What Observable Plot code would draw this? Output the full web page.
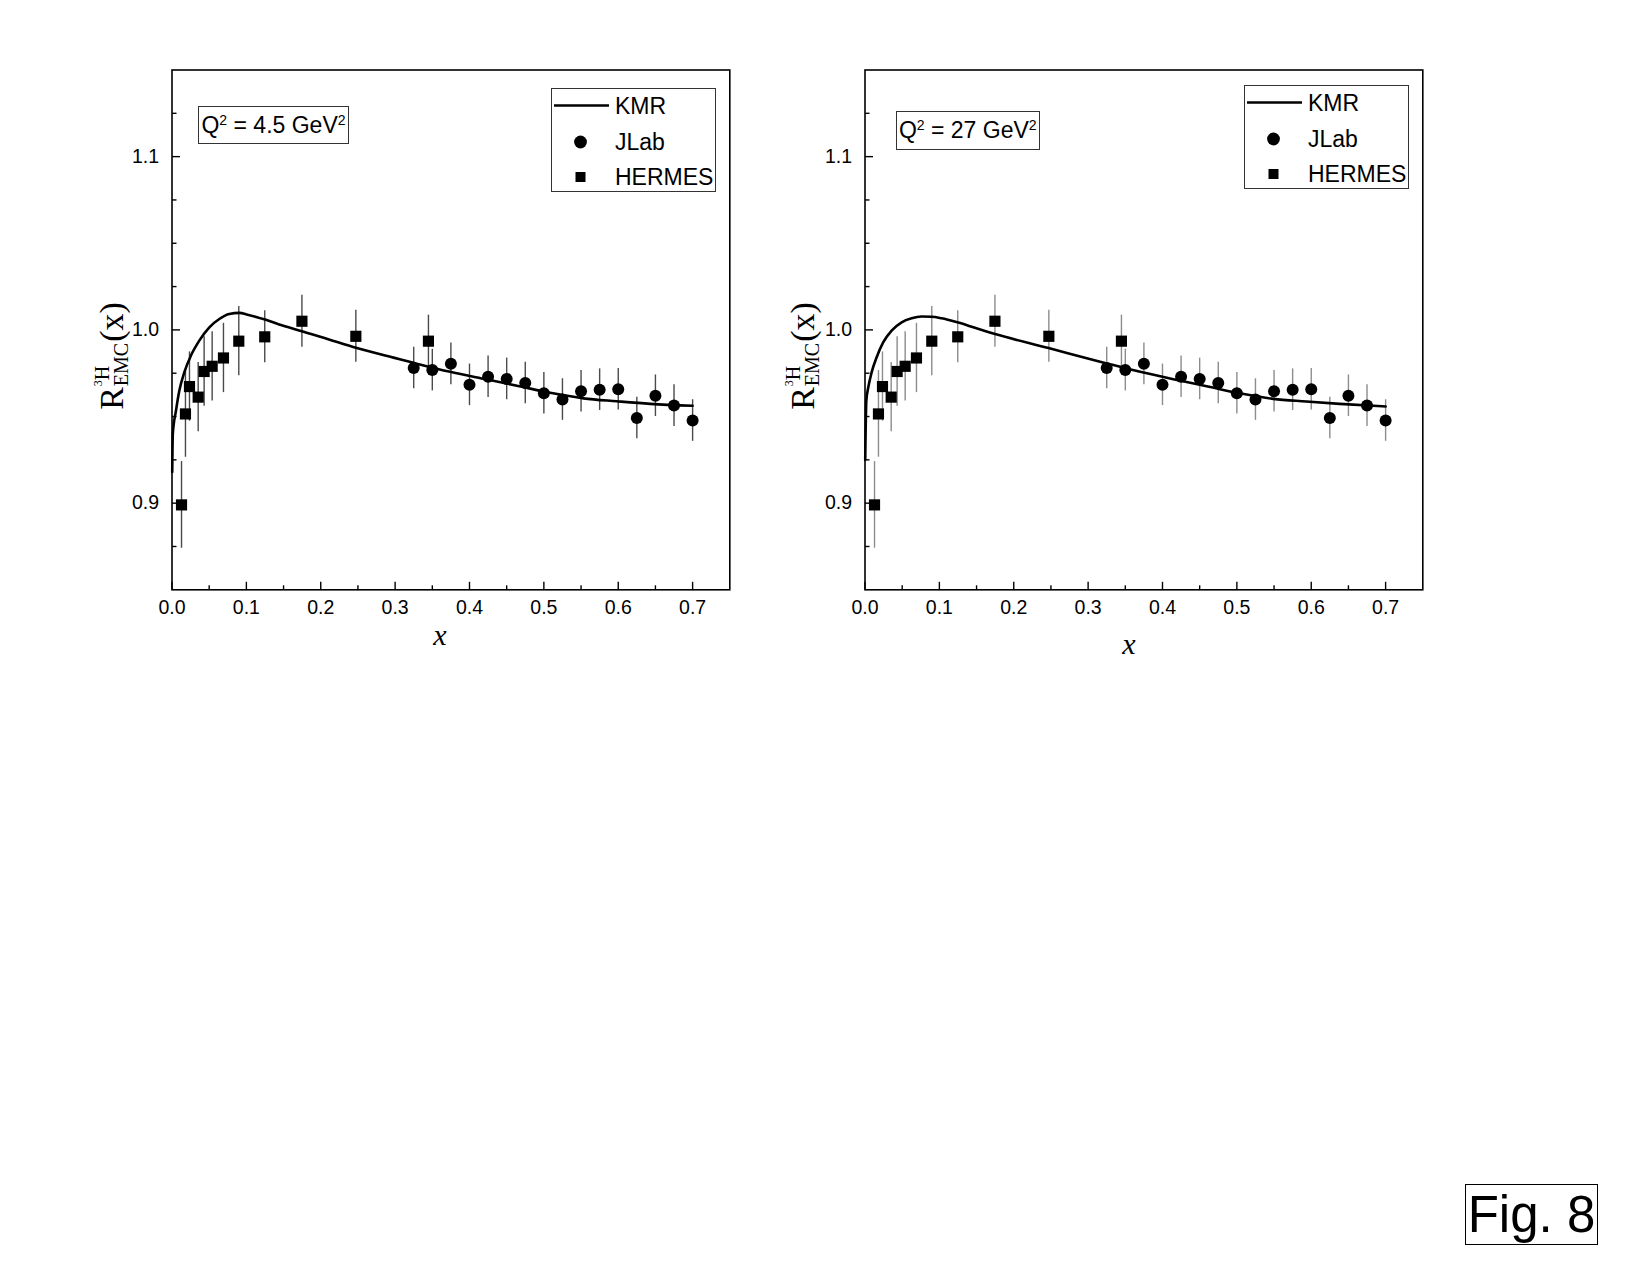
<!DOCTYPE html>
<html>
<head>
<meta charset="utf-8">
<script src="https://cdn.jsdelivr.net/npm/d3@7"></script>
<script src="https://cdn.jsdelivr.net/npm/@observablehq/plot@0.6"></script>
<style>
  html, body { margin: 0; padding: 0; background: #fff; }
  #root { position: relative; width: 1650px; height: 1275px; background: #fff; overflow: hidden;
          font-family: "Liberation Sans", Arial, sans-serif; color: #000; }
  .panel { position: absolute; top: 0; }
  .qbox { position: absolute; border: 1px solid #333; box-sizing: border-box; display: flex;
          align-items: center; justify-content: center; font-size: 23px; white-space: nowrap; }
  .qbox sup { font-size: 14px; position: relative; top: -5px; vertical-align: top; line-height: 1; }
  .legend { position: absolute; border: 1px solid #333; box-sizing: border-box; background: #fff; }
  .ylab { position: absolute; transform: translate(-50%, -50%) rotate(-90deg); white-space: nowrap;
          font-family: "Liberation Serif", "DejaVu Serif", serif; display: flex; align-items: center; line-height: 1; }
  .ylab .big { font-size: 34px; }
  .ylab .stack { display: inline-flex; flex-direction: column; font-size: 20px; line-height: 0.95; margin: 0 1px; align-items: flex-start; }
  .ylab .tiny { font-size: 12px; vertical-align: top; }
  .xlab { position: absolute; transform: translate(-50%, -50%); font-family: "Liberation Serif", "DejaVu Serif", serif;
          font-style: italic; font-size: 30px; line-height: 1; }
  .fig { position: absolute; border: 1.5px solid #000; box-sizing: border-box; font-size: 51px;
         display: flex; align-items: center; justify-content: center; line-height: 1; }
</style>
</head>
<body>
<div id="root"></div>
<script>
// ---------------- data ----------------
const xTickLabels = [0.0, 0.1, 0.2, 0.3, 0.4, 0.5, 0.6, 0.7];
const xMinorTicks = [0.05, 0.15, 0.25, 0.35, 0.45, 0.55, 0.65];
const yTickLabels = [0.9, 1.0, 1.1];
const yMinorTicks = [0.875, 0.925, 0.95, 0.975, 1.025, 1.05, 1.075, 1.125];

const jlabX   = [0.325, 0.35, 0.375, 0.40, 0.425, 0.45, 0.475, 0.50, 0.525, 0.55, 0.575, 0.60, 0.625, 0.65, 0.675, 0.70];
const jlabR   = [0.978, 0.9768, 0.9804, 0.9683, 0.973, 0.9717, 0.9694, 0.9634, 0.9598, 0.9646, 0.9655, 0.9657, 0.9492, 0.962, 0.9563, 0.9477];
const jlabErr = [0.012, 0.012, 0.012, 0.012, 0.012, 0.012, 0.012, 0.012, 0.012, 0.012, 0.012, 0.012, 0.012, 0.012, 0.012, 0.012];

const hermesX   = [0.0128, 0.0181, 0.0235, 0.0352, 0.0432, 0.054, 0.0692, 0.0898, 0.1247, 0.1747, 0.2472, 0.3448];
const hermesR   = [0.899, 0.9515, 0.9673, 0.9612, 0.976, 0.979, 0.9838, 0.9935, 0.996, 1.005, 0.9963, 0.9935];
const hermesErr = [0.025, 0.025, 0.02, 0.02, 0.02, 0.02, 0.02, 0.02, 0.015, 0.015, 0.015, 0.015];

// KMR curve, Q^2 = 4.5 GeV^2
const kmr45X = [0.0003, 0.0011, 0.0054, 0.0099, 0.0166, 0.0255, 0.0367, 0.0502, 0.0636, 0.077, 0.0905, 0.1017, 0.1263, 0.1487, 0.177, 0.21, 0.2485, 0.2978, 0.3247, 0.374, 0.419, 0.4638, 0.5085, 0.5533, 0.598, 0.643, 0.700];
const kmr45R = [0.918, 0.940, 0.9535, 0.965, 0.9756, 0.9852, 0.9938, 1.0015, 1.0063, 1.0092, 1.0098, 1.0088, 1.0058, 1.0025, 0.999, 0.9946, 0.9895, 0.984, 0.981, 0.9758, 0.9718, 0.9678, 0.9637, 0.9605, 0.9588, 0.9573, 0.9562];
// KMR curve, Q^2 = 27 GeV^2
const kmr27X = [0.0003, 0.0018, 0.0045, 0.009, 0.0157, 0.0246, 0.0358, 0.0493, 0.0627, 0.0761, 0.0896, 0.103, 0.1254, 0.1478, 0.175, 0.2468, 0.3238, 0.37, 0.4146, 0.4594, 0.504, 0.549, 0.5934, 0.6382, 0.70];
const kmr27R = [0.925, 0.9592, 0.967, 0.9756, 0.9842, 0.9929, 0.9996, 1.0044, 1.0067, 1.0077, 1.0076, 1.0067, 1.0042, 1.0012, 0.9976, 0.9895, 0.9808, 0.9758, 0.9715, 0.9675, 0.9634, 0.9602, 0.9587, 0.9573, 0.9558];

const seriesNames = ["KMR", "JLab", "HERMES"];
const panels = [
  {q2: "4.5", kx: kmr45X, ky: kmr45R, errColor: "#4a4a4a"},
  {q2: "27",  kx: kmr27X, ky: kmr27R, errColor: "#8c8c8c"}
];

// ---------------- helpers ----------------
const jlab = jlabX.map((x, i) => ({x, r: jlabR[i], e: jlabErr[i]}));
const hermes = hermesX.map((x, i) => ({x, r: hermesR[i], e: hermesErr[i]}));

const tickRight = {draw(ctx, size) { const l = Math.sqrt(size / Math.PI); ctx.moveTo(0, 0); ctx.lineTo(l, 0); }};
const tickUp = {draw(ctx, size) { const l = Math.sqrt(size / Math.PI); ctx.moveTo(0, 0); ctx.lineTo(0, -l); }};

function makePanel(p) {
  const kmr = p.kx.map((x, i) => ({x, r: p.ky[i]}));
  return Plot.plot({
    width: 790, height: 680,
    marginLeft: 171.5, marginRight: 60.7, marginTop: 69.5, marginBottom: 90.7,
    x: {domain: [0, 0.75]},
    y: {domain: [0.85, 1.15]},
    style: {fontFamily: "'Liberation Sans', Arial, sans-serif", fontSize: "19.5px", color: "#000", background: "transparent", overflow: "visible"},
    marks: [
      Plot.axisX({ticks: xTickLabels, tickFormat: d3.format(".1f"), tickSize: 0, tickPadding: 10, label: null, fontSize: 19.5}),
      Plot.axisY({ticks: yTickLabels, tickFormat: d3.format(".1f"), tickSize: 0, tickPadding: 13, label: null, fontSize: 19.5}),
      Plot.dot(xTickLabels, {x: d => d, frameAnchor: "bottom", symbol: tickUp, r: 8, stroke: "#000", fill: "none", strokeWidth: 1.4}),
      Plot.dot(xMinorTicks, {x: d => d, frameAnchor: "bottom", symbol: tickUp, r: 4.5, stroke: "#000", fill: "none", strokeWidth: 1.4}),
      Plot.dot(yTickLabels, {y: d => d, frameAnchor: "left", symbol: tickRight, r: 8, stroke: "#000", fill: "none", strokeWidth: 1.4}),
      Plot.dot(yMinorTicks, {y: d => d, frameAnchor: "left", symbol: tickRight, r: 4.5, stroke: "#000", fill: "none", strokeWidth: 1.4}),
      Plot.ruleX(jlab, {x: "x", y1: d => d.r - d.e, y2: d => d.r + d.e, stroke: p.errColor, strokeWidth: 1.4}),
      Plot.ruleX(hermes, {x: "x", y1: d => d.r - d.e, y2: d => d.r + d.e, stroke: p.errColor, strokeWidth: 1.4}),
      Plot.line(kmr, {x: "x", y: "r", curve: "monotone-x", stroke: "#000", strokeWidth: 2.6}),
      Plot.dot(jlab, {x: "x", y: "r", r: 6, fill: "#000", stroke: "none"}),
      Plot.dot(hermes, {x: "x", y: "r", symbol: "square", r: 6.3, fill: "#000", stroke: "none"}),
      Plot.frame({stroke: "#000", strokeWidth: 1.6})
    ]
  });
}

function legendSVG() {
  const svg = d3.create("svg").attr("width", 164).attr("height", 102);
  const rows = [16.5, 53, 88];
  svg.append("line").attr("x1", 2).attr("x2", 57).attr("y1", rows[0]).attr("y2", rows[0]).attr("stroke", "#000").attr("stroke-width", 2.6);
  svg.append("circle").attr("cx", 28.5).attr("cy", rows[1]).attr("r", 6.4).attr("fill", "#000");
  svg.append("rect").attr("x", 23.5).attr("y", rows[2] - 5).attr("width", 10).attr("height", 10).attr("fill", "#000");
  seriesNames.forEach((n, i) => {
    svg.append("text").attr("x", 63).attr("y", rows[i]).attr("dy", "0.36em")
      .attr("font-family", "'Liberation Sans', Arial, sans-serif").attr("font-size", 23).text(n);
  });
  return svg.node();
}

// ---------------- layout ----------------
const root = document.getElementById("root");
const offsets = [0, 693.2];
const qPos = [{l: 198, t: 106, w: 151, h: 38}, {l: 895.5, t: 110.5, w: 144.5, h: 39}];
const legPos = [{l: 550.7, t: 88.3}, {l: 1243.8, t: 85.2}];
const yLabPos = [{x: 112, y: 356}, {x: 802.5, y: 356}];
const xLabPos = [{x: 440, y: 635}, {x: 1129, y: 644}];

panels.forEach((p, i) => {
  const wrap = document.createElement("div");
  wrap.className = "panel";
  wrap.style.left = offsets[i] + "px";
  wrap.appendChild(makePanel(p));
  root.appendChild(wrap);

  const q = document.createElement("div");
  q.className = "qbox";
  Object.assign(q.style, {left: qPos[i].l + "px", top: qPos[i].t + "px", width: qPos[i].w + "px", height: qPos[i].h + "px"});
  q.innerHTML = `Q<sup>2</sup>&nbsp;= ${p.q2} GeV<sup>2</sup>`;
  root.appendChild(q);

  const leg = document.createElement("div");
  leg.className = "legend";
  Object.assign(leg.style, {left: legPos[i].l + "px", top: legPos[i].t + "px", width: "165px", height: "103.5px"});
  leg.appendChild(legendSVG());
  root.appendChild(leg);

  const yl = document.createElement("div");
  yl.className = "ylab";
  Object.assign(yl.style, {left: yLabPos[i].x + "px", top: yLabPos[i].y + "px"});
  yl.innerHTML = `<span class="big">R</span><span class="stack"><span><span class="tiny">3</span>H</span><span>EMC</span></span><span class="big">(x)</span>`;
  root.appendChild(yl);

  const xl = document.createElement("div");
  xl.className = "xlab";
  Object.assign(xl.style, {left: xLabPos[i].x + "px", top: xLabPos[i].y + "px"});
  xl.textContent = "x";
  root.appendChild(xl);
});

const fig = document.createElement("div");
fig.className = "fig";
Object.assign(fig.style, {left: "1465px", top: "1184px", width: "133px", height: "61px"});
fig.textContent = "Fig. 8";
root.appendChild(fig);
</script>
</body>
</html>
